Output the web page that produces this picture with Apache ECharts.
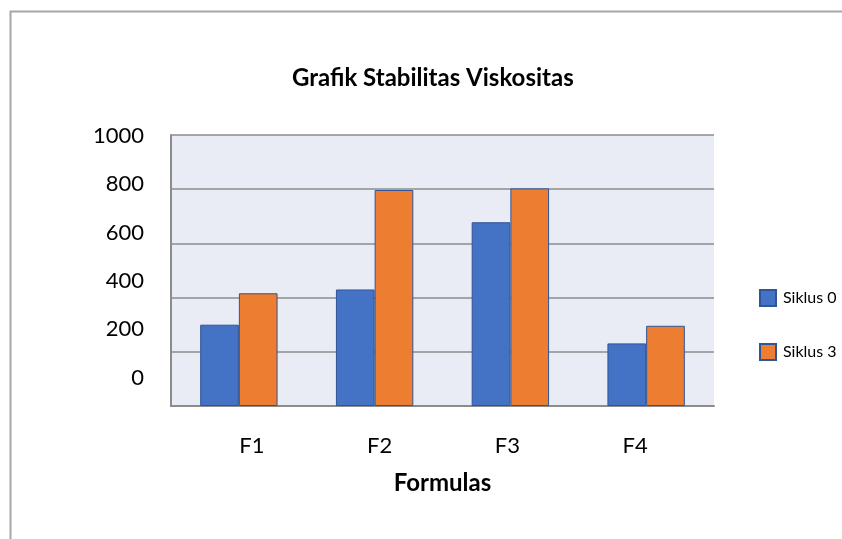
<!DOCTYPE html>
<html lang="id">

<head>
    <meta charset="UTF-8">
    <title>Grafik Stabilitas Viskositas</title>
    <script src="https://cdn.jsdelivr.net/npm/echarts@6/dist/echarts.min.js"></script>
    <style>
        html, body { margin: 0; padding: 0; background: #fff; }
        #chart { width: 842px; height: 539px; }
    </style>
</head>

<body>
    <div id="chart"></div>
    <script>
        var formulas = ['F1', 'F2', 'F3', 'F4'];
        var siklus0 = [300, 430, 678, 231];
        var siklus3 = [416, 797, 803, 296];
        var yTicks = [0, 200, 400, 600, 800, 1000];

        var font = 'Lato, "Open Sans", sans-serif';
        var barBorder = '#2F5597';

        var myChart = echarts.init(document.getElementById('chart'), null, { renderer: 'canvas' });
        myChart.setOption({
            animation: false,
            backgroundColor: '#fff',
            title: {
                text: 'Grafik Stabilitas Viskositas',
                left: 287, top: 61,
                textStyle: { fontFamily: font, fontWeight: 'bold', fontSize: 24, color: '#000' }
            },
            graphic: [{
                type: 'rect', left: 8, top: 9, silent: true,
                shape: { width: 840, height: 540 },
                style: { fill: 'none', stroke: '#a6a6a6', lineWidth: 2 }
            }],
            legend: {
                orient: 'vertical',
                left: 759, top: 289,
                padding: 0,
                itemWidth: 16, itemHeight: 16, itemGap: 36,
                icon: 'rect',
                textStyle: { fontFamily: font, fontSize: 16, color: '#000', padding: [0, 0, 0, 2] },
                data: ['Siklus 0', 'Siklus 3']
            },
            grid: [
                // plot area
                { left: 171, top: 135, width: 543, height: 271, show: true, backgroundColor: '#E9EBF5', borderWidth: 0 },
                // label placement (labels in the source are offset from their gridlines)
                { left: 188, top: 135, width: 511, height: 271, show: false }
            ],
            xAxis: [{
                gridIndex: 0,
                type: 'category',
                data: formulas,
                axisLine: { show: true, lineStyle: { color: '#8c8c8c', width: 2 } },
                axisTick: { show: false },
                axisLabel: { show: false },
                name: 'Formulas',
                nameLocation: 'middle',
                nameGap: 65,
                nameTextStyle: { fontFamily: font, fontWeight: 'bold', fontSize: 24, color: '#000', verticalAlign: 'top' }
            }, {
                gridIndex: 1,
                type: 'category',
                data: formulas,
                axisLine: { show: false },
                axisTick: { show: false },
                axisLabel: { margin: 29, fontFamily: font, fontSize: 22, color: '#000' }
            }],
            yAxis: [{
                gridIndex: 0,
                type: 'value',
                min: 0, max: 1000, interval: 200,
                axisLine: { show: true, lineStyle: { color: '#8c8c8c', width: 2 } },
                axisTick: { show: false },
                axisLabel: { show: false },
                splitLine: { show: true, lineStyle: { color: '#8c8c8c', width: 1.5 } }
            }, {
                gridIndex: 1,
                type: 'value',
                min: -117, max: 1003,
                axisLine: { show: false },
                axisTick: { show: false },
                splitLine: { show: false },
                axisLabel: {
                    customValues: yTicks,
                    formatter: function (v) { return String(v); },
                    margin: 44,
                    fontFamily: font, fontSize: 22, color: '#000'
                }
            }],
            series: [{
                name: 'Siklus 0',
                type: 'bar',
                xAxisIndex: 0, yAxisIndex: 0,
                data: siklus0,
                barGap: '0%',
                barCategoryGap: '43%',
                itemStyle: { color: '#4472C4', borderColor: barBorder, borderWidth: 1 }
            }, {
                name: 'Siklus 3',
                type: 'bar',
                xAxisIndex: 0, yAxisIndex: 0,
                data: siklus3,
                barGap: '0%',
                barCategoryGap: '43%',
                itemStyle: { color: '#ED7D31', borderColor: barBorder, borderWidth: 1 }
            }]
        });
    </script>
</body>

</html>
